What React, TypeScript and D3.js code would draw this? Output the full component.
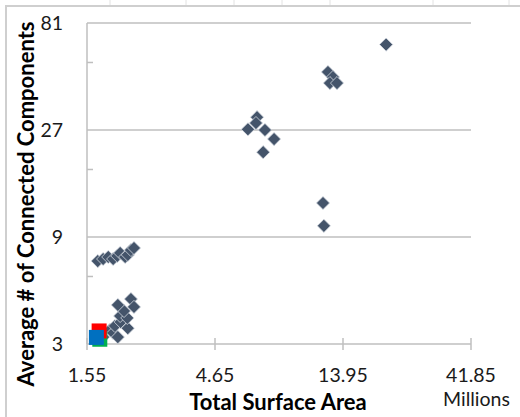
import React from "react";
import * as d3 from "d3";

// diamond series: total surface area (millions) vs avg # of connected components
const surfaceArea = [
  1.7, 1.78, 1.86, 1.94, 2.01, 2.06, 2.15, 2.2, 2.26, 2.32,
  1.78, 1.89, 1.94, 2.02, 1.97, 2.07, 2.2, 2.06, 2.19, 2.13, 2.02, 2.26, 2.32,
  6.17, 6.67, 6.61, 7.14, 7.72, 7.03,
  12.26, 12.8, 12.47, 13.25, 20.2, 11.75, 11.84,
];
const components = [
  7.03, 7.18, 7.33, 7.18, 7.41, 7.64, 7.33, 7.49, 7.87, 8.04,
  3.22, 3.47, 3.36, 3.22, 3.61, 3.76, 3.53, 4.0, 3.92, 4.21, 4.48, 4.76, 4.39,
  27.2, 30.8, 29.0, 27.0, 24.6, 21.5,
  49.0, 46.5, 43.7, 43.7, 64.9, 12.76, 10.09,
];

// the three square series sitting in the corner
const squareNames = ["green", "red", "blue"];
const squareX = [1.73, 1.72, 1.68];
const squareY = [3.15, 3.43, 3.21];
const squareColors = ["#00B050", "#FF0000", "#0070C0"];

const xTicks = [1.55, 4.65, 13.95, 41.85];
const yTicks = [3, 9, 27, 81];
const yMinor = [6, 18, 54];
const sheetCols = [110, 186, 234, 282, 330, 433, 509];

const W = 520;
const H = 417;
const font = "Lato, 'Open Sans', sans-serif";

const App = () => {
  const x = d3.scaleLog().base(3).domain([1.55, 41.85]).range([87, 471]);
  const y = d3.scaleLog().base(3).domain([3, 81]).range([344, 23]);

  const pts = surfaceArea.map((v, i) => ({ sx: v, cy: components[i] }));
  const diamond = d3.symbol(d3.symbolDiamond2, 110)();

  return (
    <svg
      width={W}
      height={H}
      style={{ position: "absolute", left: 0, top: 0, background: "#fff" }}
      fontFamily={font}
    >
      {/* sheet frame */}
      {sheetCols.map((c) => (
        <line key={c} x1={c} x2={c} y1={0} y2={5} stroke="#e2e2e2" />
      ))}
      <rect x={6} y={6} width={W + 10} height={H + 10} fill="none" stroke="#cfcfcf" strokeWidth={2} />

      {/* gridlines */}
      {yTicks.slice(1).map((t) => (
        <line key={t} x1={x(1.55)} x2={x(41.85)} y1={y(t)} y2={y(t)} stroke="#bfbfbf" strokeWidth={1.5} />
      ))}

      {/* axes */}
      <line x1={x(1.55)} x2={x(1.55)} y1={y(81)} y2={y(3)} stroke="#bfbfbf" strokeWidth={1.5} />
      <line x1={x(1.55)} x2={x(41.85)} y1={y(3)} y2={y(3)} stroke="#bfbfbf" strokeWidth={1.5} />
      {xTicks.map((t) => (
        <line key={t} x1={x(t)} x2={x(t)} y1={y(3) - 6} y2={y(3) + 6} stroke="#bfbfbf" strokeWidth={1.5} />
      ))}
      {yMinor.map((t) => (
        <line key={t} x1={x(1.55)} x2={x(1.55) + 6} y1={y(t)} y2={y(t)} stroke="#bfbfbf" strokeWidth={1.5} />
      ))}

      {/* tick labels */}
      {xTicks.map((t) => (
        <text key={t} x={x(t)} y={382} textAnchor="middle" fontSize={19.5} fill="#1a1a1a">
          {t.toFixed(2)}
        </text>
      ))}
      {yTicks.map((t) => (
        <text key={t} x={63} y={y(t)} dy="0.35em" textAnchor="end" fontSize={19.5} fill="#1a1a1a">
          {t}
        </text>
      ))}

      {/* diamonds */}
      {pts.map((d, i) => (
        <path
          key={i}
          d={diamond}
          transform={`translate(${x(d.sx)},${y(d.cy)})`}
          fill="#44546A"
          stroke="#d6dbe2"
          strokeWidth={0.8}
        />
      ))}

      {/* squares */}
      {squareNames.map((n, i) => (
        <rect
          key={n}
          x={x(squareX[i]) - 7.5}
          y={y(squareY[i]) - 7.5}
          width={15}
          height={15}
          fill={squareColors[i]}
        />
      ))}

      {/* titles */}
      <text x={278} y={410} textAnchor="middle" fontSize={22} fontWeight="bold" fill="#000">
        Total Surface Area
      </text>
      <text x={443} y={406} fontSize={19.5} fill="#1a1a1a">
        Millions
      </text>
      <text
        transform="translate(34,204) rotate(-90)"
        textAnchor="middle"
        fontSize={22}
        fontWeight="bold"
        fill="#000"
      >
        Average # of Connected Components
      </text>
    </svg>
  );
};

export default App;
